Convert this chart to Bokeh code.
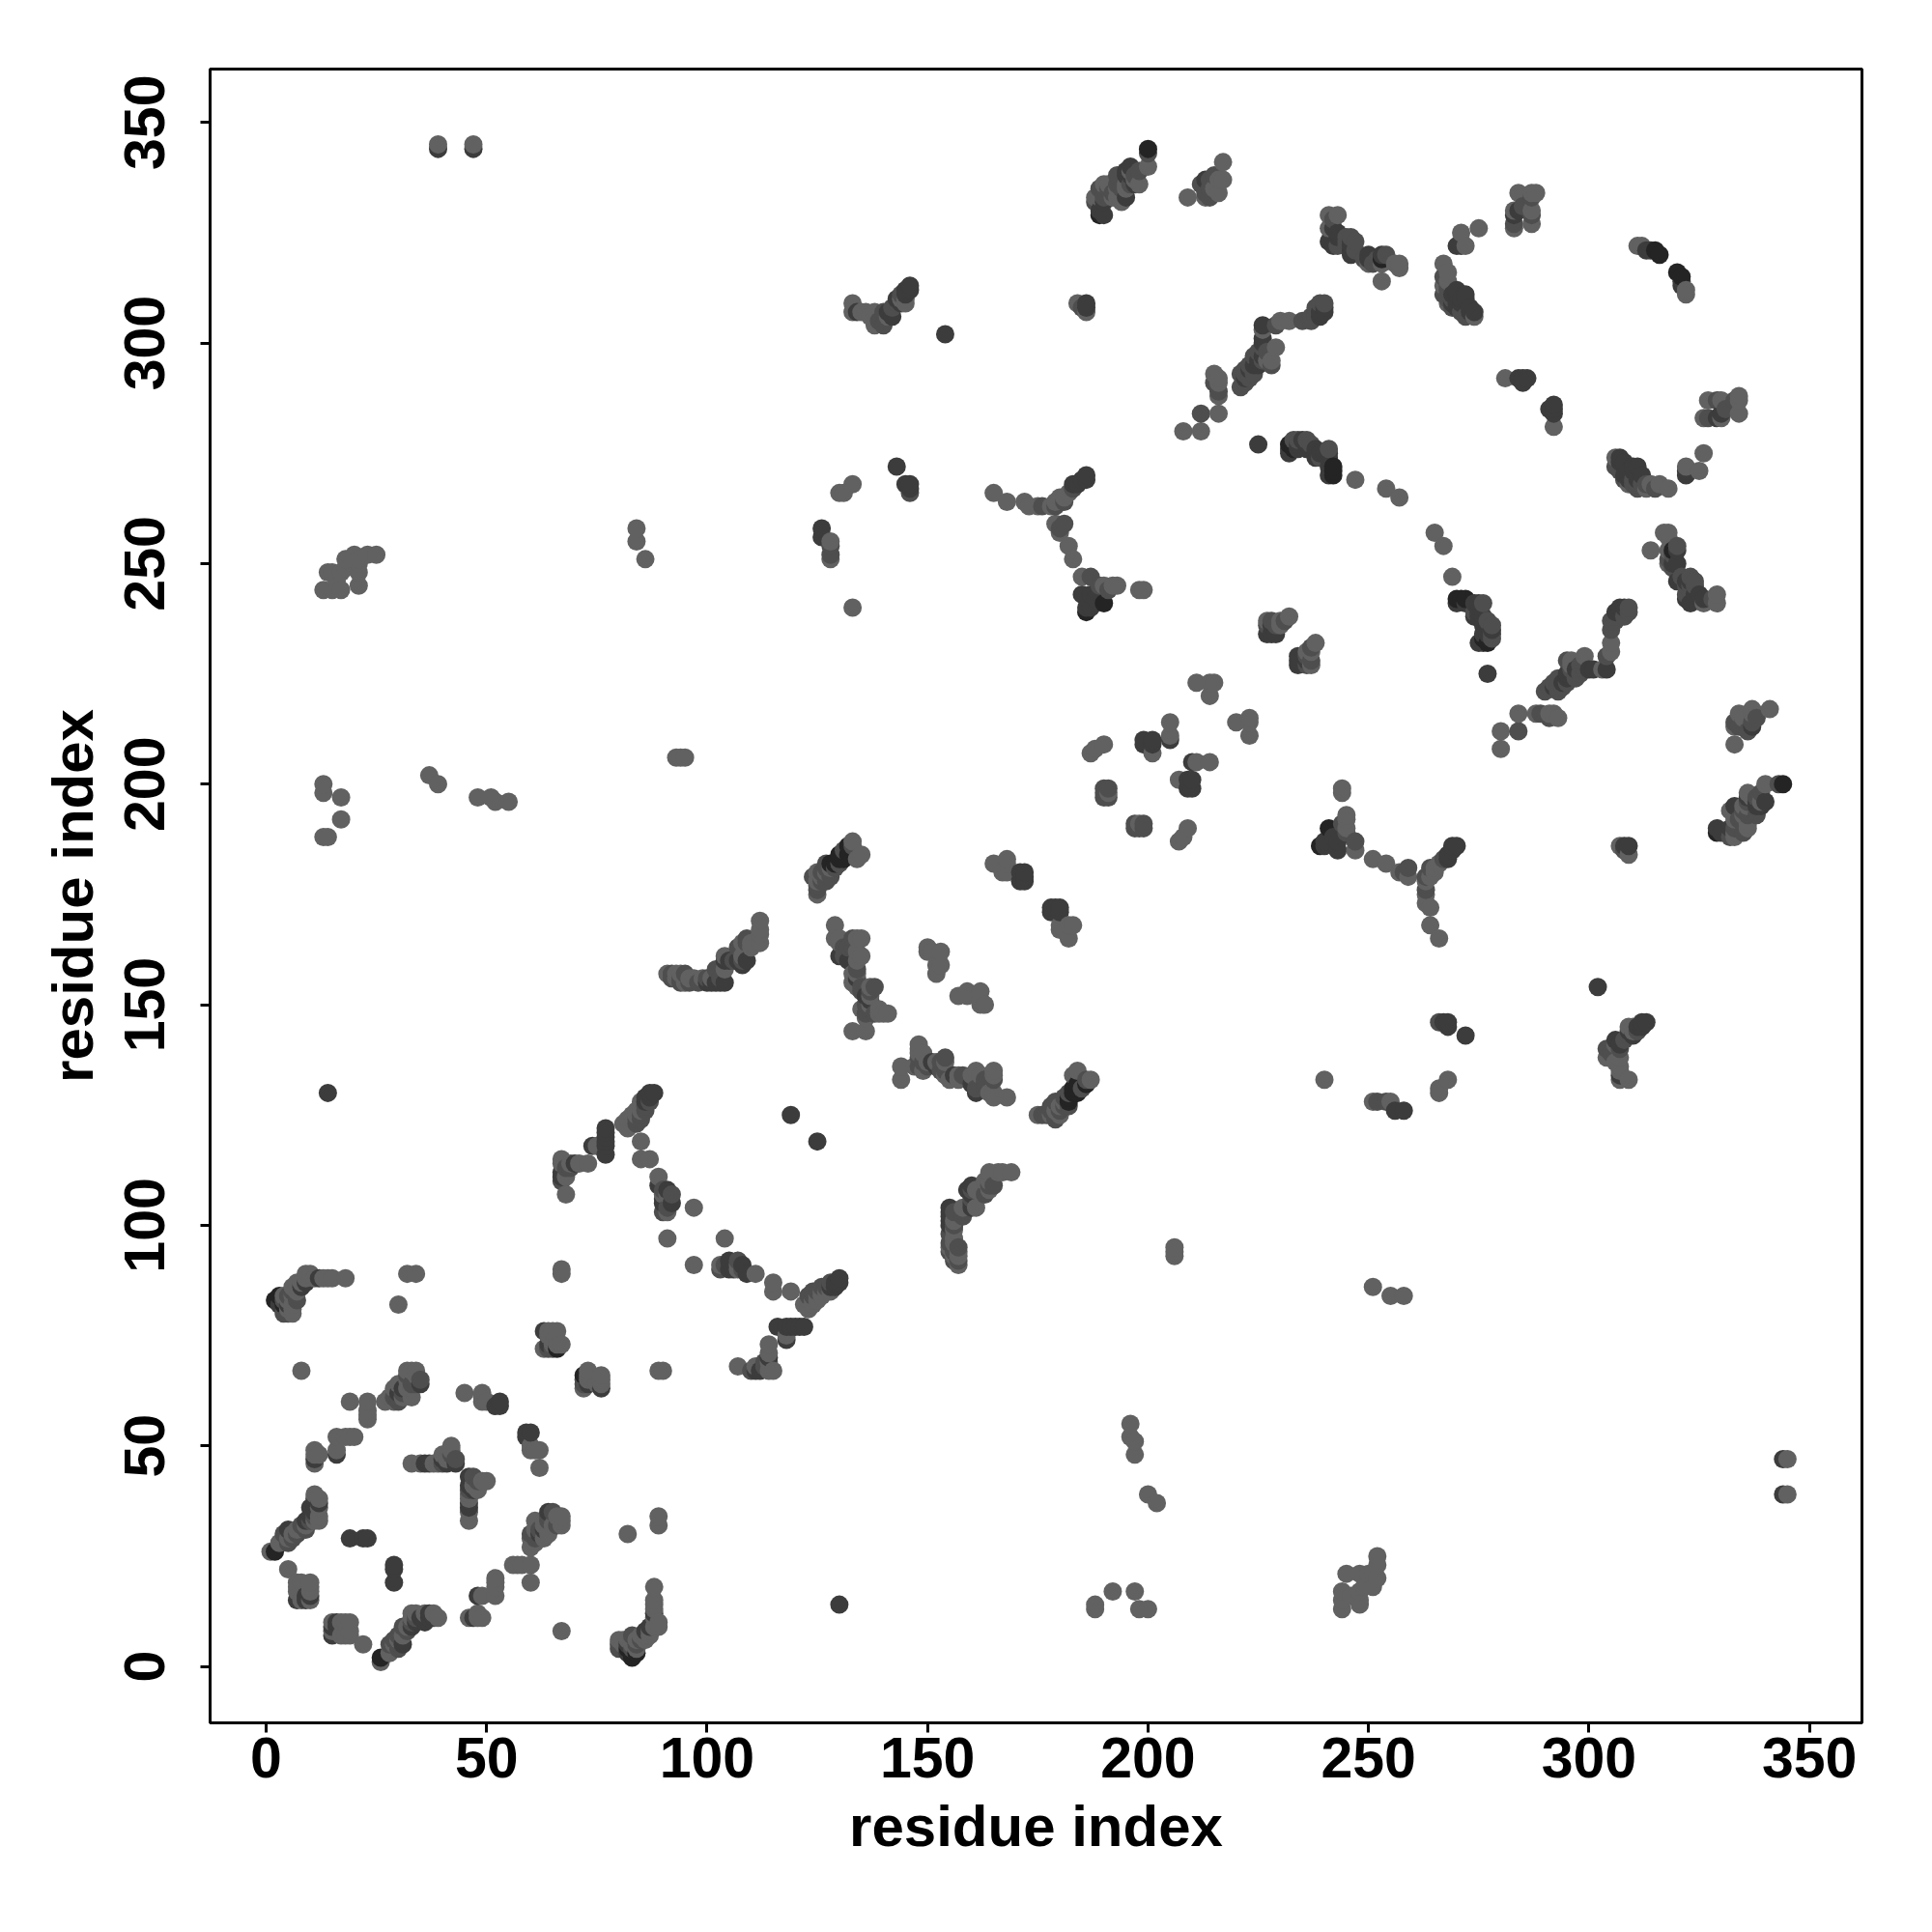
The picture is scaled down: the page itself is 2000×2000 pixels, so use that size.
from bokeh.plotting import figure
from bokeh.models import FixedTicker
from bokeh.embed import file_html
from bokeh.resources import INLINE

tick_values = [0, 50, 100, 150, 200, 250, 300, 350]
axis_title = "residue index"

# residue contact pairs (a < b); the map is symmetric
contacts_very_dark = [
    (2,83),(4,82),(26,2),(83,2),(84,3),(130,184),(131,183),(131,185),(132,184),(129,182),
    (182,128),(183,130),(184,131),(185,131),(184,130),(186,132),(189,329),(190,329),(200,344),
    (241,270),(242,270),(242,271),(270,322),(253,319),(315,321),(316,320),(321,315),(226,300),(232,276),
    (199,210),(201,210),(232,277),(233,276),(272,242),(190,241),(186,239),(66,72),
]
contacts_dark = [
    (3,82),(4,84),(5,83),(11,37),(12,37),(14,130),(11,46),(11,47),(11,48),(30,62),(31,63),
    (33,64),(35,64),(52,59),(53,60),(53,59),(16,48),(33,46),(36,46),(37,46),(40,47),(41,46),
    (43,46),(19,29),(23,29),(22,29),(10,15),(10,16),(7,15),(8,15),(15,7),(15,9),(16,9),
    (31,5),(33,9),(34,10),(35,11),(36,10),(37,11),(38,11),(46,11),(49,11),(80,4),(82,5),
    (85,7),(86,8),(87,9),(88,12),(88,15),(88,18),(73,64),(72,64),(76,63),
    (77,118),(77,121),(77,120),(68,111),(67,111),(74,118),(87,130),(88,130),(86,129),
    (91,108),(92,105),(91,104),(105,90),(106,90),(108,90),(109,89),(130,87),(129,87),(128,86),
    (119,125),(118,74),(116,77),(118,77),(119,77),(120,77),(122,77),(113,68),(114,70),(112,67),
    (155,101),(156,99),(160,104),(159,108),(160,109),(155,104),
    (104,160),(105,160),(106,160),(107,160),(102,155),(103,155),(100,155),
    (131,161),(130,161),(132,160),(134,156),(136,152),(137,151),
    (171,180),(172,180),(171,178),(172,178),(178,172),(179,172),(180,172),
    (154,302),(143,272),(145,268),(146,266),(146,268),(128,255),(126,258),
    (143,310),(144,309),(146,312),(145,311),(134,307),(133,307),(140,304),(139,305),
    (186,240),(187,240),(188,242),(187,243),(185,243),(183,268),(184,268),(185,269),(186,270),(186,269),
    (213,337),(197,336),(195,339),(196,338),
    (241,326),(242,322),(241,323),(243,325),(246,323),(246,321),(250,320),(253,320),(252,319),
    (270,308),(271,309),(272,310),(272,311),(270,311),(269,309),(273,307),(274,307),(271,322),
    (284,292),(285,292),(285,291),(291,285),(292,286),(311,322),(314,321),(313,321),
    (225,277),(232,275),(234,277),(235,278),(236,276),(238,275),(238,274),(239,275),(240,275),(241,274),
    (225,295),(226,296),(223,294),(224,295),(226,300),(237,305),(238,306),(240,308),(240,307),(239,307),
    (242,326),(246,320),(322,246),(323,246),(322,242),(324,243),(320,250),(319,250),
    (308,273),(311,272),(310,271),(309,270),(312,270),(311,269),(322,270),
    (270,241),(272,241),(274,241),(275,241),(274,238),(276,238),(276,236),(277,236),(276,234),(276,232),(277,225),
    (306,239),(307,239),(308,240),(303,226),(304,226),(301,226),(296,225),(297,226),(292,222),(294,223),(295,224),
    (212,284),(210,199),(210,201),(199,209),(201,209),(205,211),(207,201),(210,205),
    (223,211),(229,234),(228,236),(227,234),(228,234),(330,287),(329,283),(330,284),
    (329,190),(330,189),(332,190),(333,195),(337,213),(336,196),(338,195),(340,196),
    (306,142),(307,141),(309,144),(310,143),(313,146),(312,145),
    (251,128),(256,126),(258,126),(272,143),(268,146),(267,146),(184,309),(186,309),(186,308),
    (39,344),(47,344),
]
contacts_light = [
    (1,26),(3,28),(5,29),(6,30),(7,31),(9,32),(11,33),(12,33),(12,34),(12,38),(5,22),(7,17),(7,19),(10,17),(10,19),
    (8,67),(6,84),(7,85),(7,86),(8,87),(9,88),(10,89),(11,88),(13,88),(14,88),(15,88),(18,88),(6,80),(5,81),(6,82),
    (30,82),(32,89),(34,89),(34,67),(32,67),(33,67),(32,63),(27,60),(28,61),(29,60),(31,61),
    (19,60),(23,60),(23,58),(23,56),(16,52),(19,52),(20,52),(16,49),(11,49),(45,62),(49,62),(49,60),(50,60),(49,61),
    (42,50),(40,48),(41,47),(39,46),(46,33),(46,35),(46,38),(49,42),(47,41),
    (22,5),(18,7),(19,10),(18,10),(15,10),(15,8),(19,8),(33,11),(34,12),(36,12),(38,12),(39,11),
    (46,11),(48,12),(48,11),(52,20),(52,18),(49,16),(52,16),(56,23),(57,23),(60,23),(60,19),
    (61,33),(63,33),(65,32),(66,34),(67,32),(67,34),(63,29),(64,30),(67,8),(82,30),(89,34),(89,32),
    (80,6),(81,6),(83,5),(84,4),(89,9),(86,6),(87,7),(67,89),(67,90),(89,67),(90,67),
    (64,76),(66,76),(63,72),(65,73),(72,63),(73,66),(73,67),(75,64),(76,65),
    (68,107),(67,114),(67,115),(69,114),(71,114),(73,114),(81,123),(82,124),(83,125),(84,126),(85,128),(85,127),
    (85,119),(85,115),(87,115),(89,111),(91,107),(91,103),(97,104),(91,97),(104,97),(103,91),(107,90),(111,89),
    (115,87),(115,85),(119,85),(122,82),(123,83),(124,83),(125,84),(126,85),(127,85),(114,73),(118,75),(107,68),(111,68),(115,67),(114,67),
    (91,157),(93,157),(94,157),(95,155),(96,156),(97,156),(99,156),(101,156),(104,158),(108,164),(110,163),(110,164),(112,164),(112,167),
    (125,175),(125,178),(125,180),(126,179),(127,180),(128,181),(133,187),(135,184),(134,183),
    (129,168),(129,165),(130,165),(134,165),(134,162),(134,160),(133,157),(133,155),(134,154),(137,154),(135,149),(136,147),(139,149),(140,148),(141,148),(133,144),(136,144),
    (148,141),(148,139),(150,137),(152,137),(144,133),(144,136),
    (165,182),(168,182),(167,180),(180,168),(182,168),(183,168),(182,165),
    (150,162),(153,162),(152,157),(153,159),(159,152),(162,153),(162,151),(163,150),
    (157,134),(161,135),(165,135),(164,130),(168,129),(157,91),(156,93),(166,112),(169,112),(164,112),(161,104),(161,108),
    (39,345),(47,345),(13,244),(14,248),(15,244),(17,244),(17,248),(18,251),(21,245),(21,248),(21,251),(23,252),(25,252),
    (15,248),(18,249),(21,250),(20,252),(16,246),
    (84,258),(84,255),(86,251),(13,200),(13,198),(17,197),(17,192),(13,188),(14,188),
    (37,202),(39,200),(48,197),(51,197),(52,196),(55,196),(93,206),(94,206),(95,206),
    (128,251),(133,240),(131,266),(133,268),(133,309),(136,307),(138,307),(141,306),(144,310),(145,309),
    (165,266),(168,264),(172,264),(173,263),(175,263),(178,263),(179,264),(180,265),(181,265),(182,266),
    (179,259),(180,257),(182,254),(183,251),(185,247),(190,245),(192,245),(193,245),(198,244),(199,244),
    (200,340),(194,332),(190,336),(191,336),(193,335),(188,333),(217,341),(216,337),(216,334),(213,333),(209,333),
    (241,329),(250,318),(253,318),(256,318),(257,317),(253,314),
    (275,326),(271,325),(272,322),(267,318),(267,313),(268,309),(274,306),
    (284,334),(287,334),(283,330),(283,326),(287,330),(287,327),(281,292),(292,281),(312,322),(322,311),
    (184,309),(186,307),(230,305),(232,305),(226,303),(229,299),(227,296),(228,296),
    (215,293),(216,291),(216,288),(216,284),(212,280),(208,280),
    (247,269),(254,267),(257,265),(265,257),(267,254),(269,247),
    (306,274),(314,268),(318,267),(316,268),(322,272),(325,271),(326,275),
    (317,257),(318,257),(314,253),(318,250),(326,241),(329,243),(329,241),
    (305,232),(305,230),(299,229),(296,228),(284,216),(288,216),(292,216),(293,215),(280,212),(280,208),
    (230,237),(232,238),(227,237),(230,236),(211,223),(214,223),(215,223),(214,220),(220,214),
    (205,214),(201,207),(187,207),(188,208),(190,209),(207,187),(211,205),(214,205),(207,201),(191,198),(198,191),(209,190),
    (327,287),(334,288),(334,284),(326,283),
    (341,217),(337,217),(334,216),(335,215),(333,213),(333,209),(340,200),(336,198),(335,195),(339,196),(332,194),(336,191),
    (304,138),(306,137),(307,135),(307,133),(309,133),(310,145),(240,133),(266,130),(268,133),(255,128),(251,128),
    (206,95),(251,86),(255,84),(258,84),
    (189,333),(192,333),(193,333),(195,336),(197,337),
]
contacts_mid = [
    (4,80),(5,80),(4,83),(5,84),(6,85),(11,34),(10,33),(8,32),(7,30),(5,28),(4,30),(6,29),(9,31),
    (32,66),(30,60),(31,62),(34,64),(43,47),(42,48),(46,39),(46,40),
    (33,12),(34,11),(32,8),(31,7),(30,6),(29,5),(61,29),(61,30),(62,31),(63,32),(65,35),(64,33),(66,32),
    (88,13),(88,14),(87,8),(82,6),(83,4),(84,6),(85,6),(83,7),
    (72,64),(76,64),(65,72),(64,72),(67,110),(68,113),(69,113),(75,118),
    (84,124),(85,125),(86,127),(87,128),(90,108),(92,107),(103,90),(104,91),(123,84),(124,85),(125,85),(126,86),(128,85),
    (126,178),(127,178),(128,179),(129,181),(130,182),(127,181),(92,156),(98,155),(100,156),(103,156),(108,160),(107,163),
    (132,163),(133,163),(134,158),(135,153),(136,150),(137,153),(137,149),(138,148),(136,148),(135,154),(134,157),
    (149,139),(150,136),(153,135),(154,138),(154,134),(158,134),(160,134),(161,131),(163,131),(165,133),(165,130),
    (155,96),(155,94),(156,94),(156,97),(157,92),(158,102),(160,106),(164,109),(165,109),
    (155,98),(156,100),(157,95),(176,125),(177,125),(178,125),(179,126),(180,126),(181,127),(182,127),
    (179,124),(187,133),(184,135),(185,131),(186,133),
    (180,258),(181,259),(181,264),(179,263),(176,263),(183,267),(187,247),(189,245),(191,244),
    (191,335),(192,334),(189,335),(188,332),(196,336),(198,339),(214,333),(214,335),(215,338),(214,337),
    (242,328),(243,322),(245,323),(246,324),(247,321),(249,319),(251,318),(267,315),(268,312),(268,311),(269,310),
    (185,308),(229,304),(237,306),(238,308),(239,309),(240,309),(235,305),
    (222,294),(223,295),(221,293),(224,297),(225,298),(226,299),(215,291),(216,289),(212,284),
    (233,278),(234,278),(236,278),(237,277),(239,274),(241,276),
    (306,272),(307,271),(308,269),(309,268),(310,268),(313,268),(311,267),
    (320,254),(319,252),(321,247),(322,245),(324,245),(323,247),(326,241),(328,242),
    (305,237),(306,238),(309,239),(293,222),(293,224),(296,226),(295,228),(298,227),(299,226),
    (292,223),(290,221),(291,222),(227,236),(228,237),(231,237),(229,236),
    (191,197),(191,199),(190,198),(190,197),(197,191),(199,190),(198,190),
    (330,283),(327,283),(329,287),(333,287),(331,285),
    (334,213),(336,212),(333,190),(334,192),(335,189),(335,194),(336,193),(338,197),(338,193),(343,200),
    (304,140),(305,139),(307,140),(308,142),(309,143),(311,144),(206,93),(252,128),(254,128),(266,146),
]

shades = {"#242424": contacts_very_dark, "#3c3c3c": contacts_dark,
          "#4e4e4e": contacts_mid, "#616161": contacts_light}

# every contact appears as (a, b) and (b, a); draw in row order so shades interleave
marks = {}
for colour, contacts in shades.items():
    for a, b in contacts:
        marks[(a, b)] = colour
        marks[(b, a)] = colour
ordered = sorted(marks)
xs = [k[0] for k in ordered]
ys = [k[1] for k in ordered]
colours = [marks[k] for k in ordered]

p = figure(
    width=1984, height=1984, output_backend="svg", toolbar_location=None,
    x_range=(-12.7, 361.9), y_range=(-12.8, 362.1),
    min_border_left=217, min_border_right=57, min_border_top=71, min_border_bottom=201,
    background_fill_color="white", border_fill_color="white",
)
p.grid.visible = False
p.outline_line_color = "black"
p.outline_line_width = 3

p.scatter(xs, ys, size=19, fill_color=colours, line_color=None)

for ax in (p.xaxis[0], p.yaxis[0]):
    ax.ticker = FixedTicker(ticks=tick_values)
    ax.axis_label = axis_title
    ax.axis_line_color = None
    ax.major_tick_line_color = "black"
    ax.major_tick_line_width = 3
    ax.major_tick_in = 0
    ax.major_tick_out = 10
    ax.minor_tick_line_color = None
    ax.major_label_text_font = "Liberation Sans"
    ax.major_label_text_font_style = "bold"
    ax.major_label_text_font_size = "59px"
    ax.major_label_text_color = "black"
    ax.axis_label_text_font = "Liberation Sans"
    ax.axis_label_text_font_style = "bold"
    ax.axis_label_text_font_size = "60px"
    ax.axis_label_text_color = "black"
p.xaxis[0].major_label_standoff = 5
p.xaxis[0].axis_label_standoff = 14
p.yaxis[0].major_label_orientation = "vertical"
p.yaxis[0].major_label_standoff = 37
p.yaxis[0].axis_label_standoff = 18

open("out.html", "w").write(file_html(p, INLINE))
